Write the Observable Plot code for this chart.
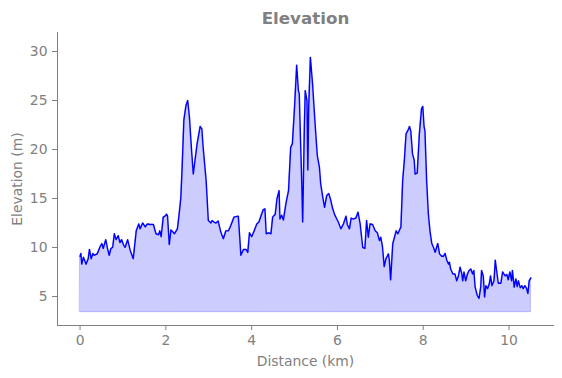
<!DOCTYPE html>
<html><head><meta charset="utf-8">
<script src="https://cdn.jsdelivr.net/npm/d3@7"></script>
<script src="https://cdn.jsdelivr.net/npm/@observablehq/plot@0.6"></script>
<style>body{margin:0;background:#fff}</style>
</head><body><div id="chart"></div>
<script>
const distanceKm = [0.00,0.02,0.04,0.08,0.14,0.19,0.22,0.26,0.30,0.33,0.40,0.47,0.51,0.54,0.60,0.64,0.68,0.72,0.76,0.80,0.84,0.89,0.93,0.97,1.01,1.05,1.11,1.17,1.24,1.31,1.37,1.40,1.46,1.52,1.57,1.63,1.71,1.77,1.83,1.86,1.89,1.94,1.98,2.02,2.04,2.08,2.12,2.16,2.20,2.27,2.31,2.35,2.38,2.42,2.47,2.51,2.55,2.60,2.64,2.68,2.73,2.80,2.84,2.87,2.94,2.99,3.05,3.08,3.12,3.17,3.22,3.28,3.34,3.40,3.46,3.51,3.59,3.69,3.75,3.81,3.87,3.91,3.95,4.00,4.06,4.12,4.17,4.24,4.27,4.31,4.34,4.39,4.45,4.49,4.55,4.59,4.64,4.66,4.70,4.74,4.80,4.86,4.91,4.95,5.00,5.05,5.09,5.11,5.14,5.16,5.19,5.23,5.25,5.29,5.31,5.33,5.37,5.42,5.48,5.53,5.58,5.61,5.66,5.70,5.75,5.80,5.84,5.89,5.94,6.02,6.08,6.14,6.20,6.23,6.28,6.32,6.37,6.43,6.48,6.53,6.59,6.64,6.68,6.72,6.76,6.82,6.88,6.93,6.98,7.01,7.05,7.09,7.13,7.19,7.21,7.24,7.29,7.33,7.37,7.41,7.44,7.48,7.52,7.56,7.60,7.65,7.68,7.71,7.75,7.79,7.81,7.86,7.91,7.96,7.99,8.02,8.04,8.08,8.12,8.16,8.20,8.24,8.28,8.31,8.34,8.38,8.43,8.47,8.51,8.55,8.59,8.61,8.64,8.69,8.74,8.78,8.82,8.86,8.90,8.92,8.95,8.99,9.03,9.07,9.11,9.15,9.18,9.21,9.26,9.30,9.34,9.36,9.40,9.43,9.46,9.50,9.54,9.57,9.60,9.65,9.68,9.71,9.75,9.81,9.85,9.91,9.95,9.98,10.02,10.06,10.08,10.12,10.16,10.19,10.22,10.26,10.30,10.33,10.37,10.41,10.44,10.47,10.51];
const elevationM = [9.1,9.4,8.3,9.0,8.3,8.85,9.8,8.85,9.4,9.2,9.35,10.1,10.4,9.9,10.8,9.9,9.2,9.9,10.0,11.4,10.8,11.2,10.5,10.8,10.3,10.0,10.8,9.7,8.85,11.7,12.4,11.9,12.5,12.1,12.4,12.35,12.35,11.4,11.3,11.7,11.1,13.1,13.2,13.4,13.2,10.3,11.8,11.6,11.4,11.9,13.4,15.1,18.2,23.0,24.5,25.0,23.3,19.9,17.5,18.9,20.6,22.35,22.1,20.2,16.8,12.75,12.5,12.75,12.6,12.5,12.7,11.6,10.9,11.7,11.7,12.2,13.1,13.2,9.2,9.8,9.8,9.5,11.5,11.1,11.7,12.4,12.6,13.5,13.85,13.95,11.4,11.5,11.4,13.1,13.4,14.95,15.8,12.9,13.3,12.8,14.5,15.8,20.2,20.6,24.3,28.6,26.0,25.7,20.9,18.0,12.6,22.6,26.0,25.0,17.9,24.3,29.4,26.7,22.6,19.4,18.2,16.5,15.1,14.1,15.3,15.5,14.9,13.95,13.3,12.6,11.9,12.4,13.2,12.35,11.9,13.0,12.9,13.0,13.6,12.4,10.0,9.9,12.75,11.05,12.4,12.35,11.7,11.5,10.7,11.05,10.1,8.05,8.85,9.35,8.7,6.7,10.4,11.05,11.7,11.4,11.7,12.1,16.8,18.9,21.6,22.0,22.35,21.9,19.55,18.9,17.5,17.6,21.6,24.15,24.4,22.3,21.9,16.8,13.4,11.6,10.4,10.0,9.5,10.0,10.4,9.35,9.1,9.1,9.4,8.7,8.3,8.5,7.8,7.3,7.3,6.6,7.1,8.0,7.3,6.6,7.5,6.6,7.3,7.65,7.8,7.3,7.65,5.95,5.1,4.8,5.95,7.65,7.1,4.95,6.1,5.8,6.3,7.1,6.1,6.6,8.7,7.65,6.35,6.35,7.5,7.1,7.25,6.7,7.5,6.6,7.65,5.95,6.8,6.0,6.6,5.9,6.1,5.8,6.1,5.8,5.3,6.6,6.9];
const baseElevation = 3.4;
const xTicks = [0, 2, 4, 6, 8, 10];
const yTicks = [5, 10, 15, 20, 25, 30];
const titleText = "Elevation";
const xLabel = "Distance (km)";
const yLabel = "Elevation (m)";

const data = distanceKm.map((d, i) => ({d, e: elevationM[i]}));

const chart = Plot.plot({
  width: 562, height: 378,
  marginLeft: 57, marginRight: 9, marginTop: 32, marginBottom: 53,
  style: {fontFamily: "DejaVu Sans", fontSize: "13.9px", color: "gray", background: "white"},
  x: {domain: [-0.526, 11.036]},
  y: {domain: [2.04, 31.94]},
  marks: [
    Plot.areaY(data, {x: "d", y1: d => baseElevation, y2: "e", fill: "blue", fillOpacity: 0.2, stroke: "blue", strokeOpacity: 0.2, strokeWidth: 1}),
    Plot.lineY(data, {x: "d", y: "e", stroke: "blue", strokeWidth: 1.4}),
    Plot.frame({anchor: "left", stroke: "gray"}),
    Plot.frame({anchor: "bottom", stroke: "gray"}),
    Plot.axisX({ticks: xTicks, tickSize: 5, tickPadding: 5, label: null, stroke: "gray", fill: "gray"}),
    Plot.axisY({ticks: yTicks, tickSize: 5, tickPadding: 5, label: null, stroke: "gray", fill: "gray"}),
    Plot.text([xLabel], {frameAnchor: "bottom", dy: 36, lineAnchor: "middle", textAnchor: "middle", fill: "gray"}),
    Plot.text([yLabel], {frameAnchor: "left", dx: -40, rotate: -90, lineAnchor: "middle", textAnchor: "middle", fill: "gray"}),
    Plot.text([titleText], {frameAnchor: "top", dy: -14, lineAnchor: "middle", textAnchor: "middle", fontWeight: "bold", fontSize: 16.7, fill: "gray"})
  ]
});
document.getElementById("chart").appendChild(chart);
</script>
</body></html>
